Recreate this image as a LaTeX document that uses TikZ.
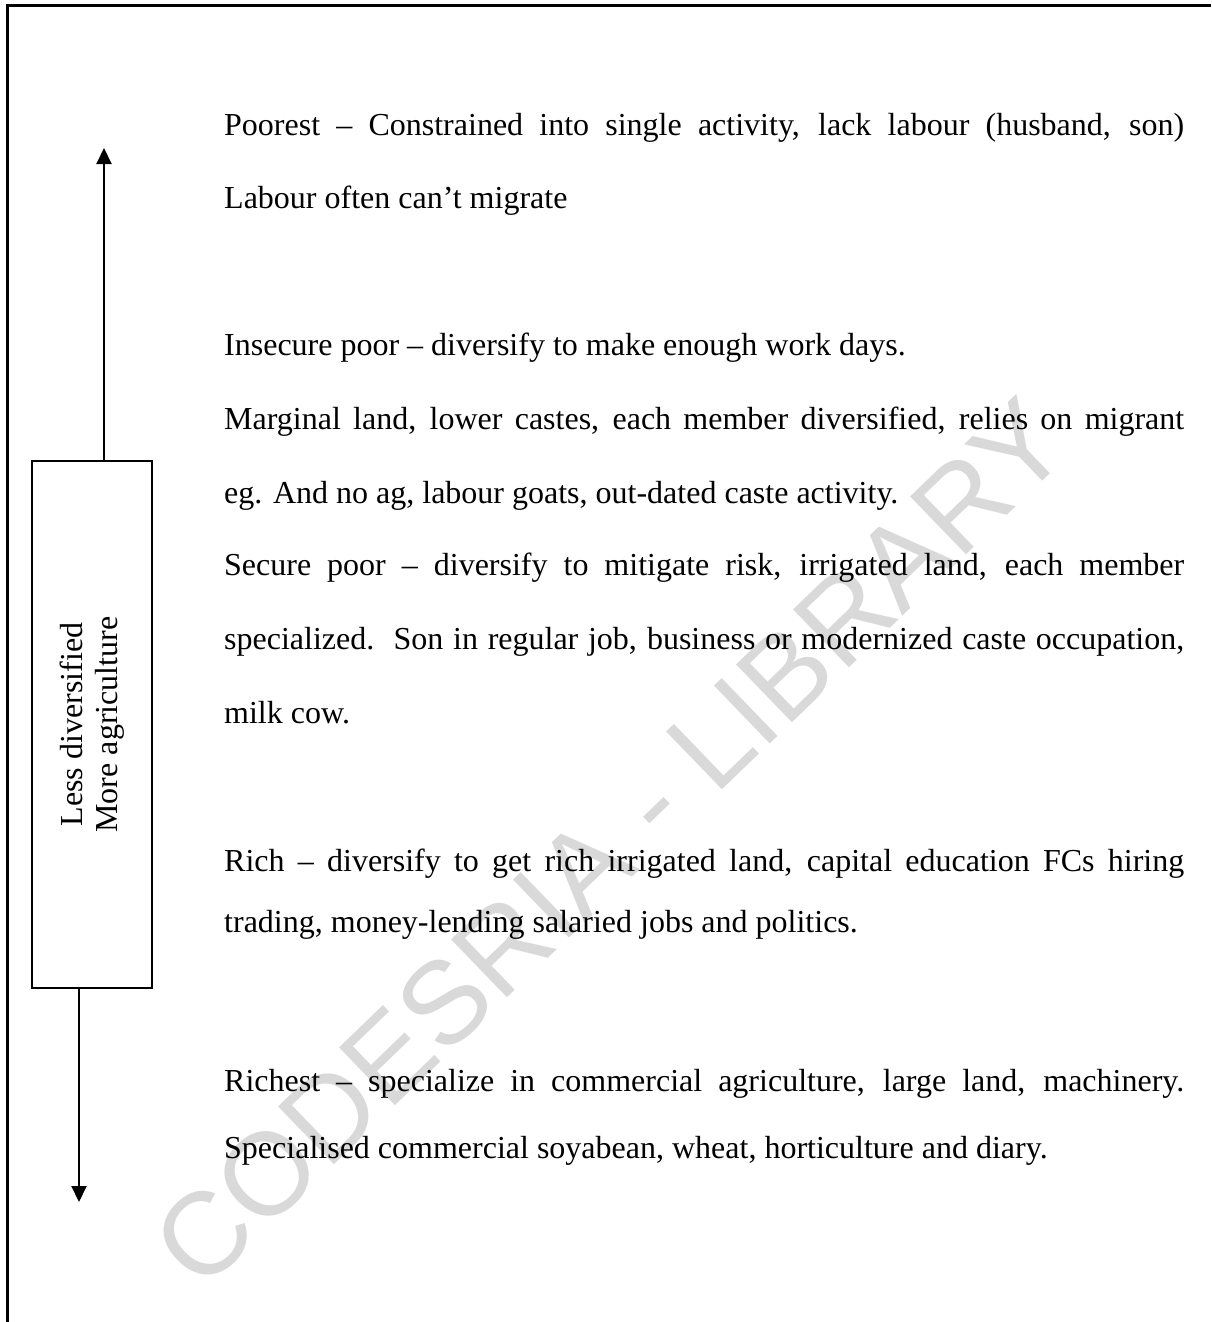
\documentclass[tikz,border=0pt]{standalone}
\usepackage{fontspec}
\setmainfont{Liberation Serif}
\setsansfont{Liberation Sans}
\usetikzlibrary{arrows.meta, positioning}

\newcommand{\fullline}[1]{\makebox[960pt][s]{#1}}

\tikzset{
  txt/.style = {anchor=base west, inner sep=0pt, font=\fontsize{32}{38}\selectfont},
  sidebox/.style = {rectangle, draw, line width=1.6pt, minimum width=120pt, minimum height=527pt, inner sep=0pt},
  arr/.style = {line width=2pt, -{Triangle[length=16pt, width=15pt]}}
}

\begin{document}
\begin{tikzpicture}[x=1pt, y=-1pt]
  \useasboundingbox (0,0) rectangle (1211,1322);

  % watermark behind everything
  \node (watermark) [rotate=44, text=black!15, font=\fontsize{117}{117}\sffamily] at (610,843) {CODESRIA - LIBRARY};

  % outer frame (left and top edges)
  \draw[line width=3pt] (7.5,1322) -- (7.5,6) -- (1211,6);

  % side scale with arrows
  \node (scale) [sidebox] at (92,724.5) {};
  \node (scaletext) [rotate=90, align=center, font=\fontsize{32}{35}\selectfont] at (scale.center) {Less diversified\\More agriculture};
  \coordinate (uptip) at (104,148);
  \coordinate (downtip) at (79,1202);
  \draw[arr] (scale.north -| uptip) -- (uptip);
  \draw[arr] (scale.south -| downtip) -- (downtip);

  % text lines
  \node (poorest) [txt] at (224,135) {\fullline{Poorest – Constrained into single activity, lack labour (husband, son)}};
  \node (labour) [txt] at (224,208) {Labour often can’t migrate};

  \node (insecure) [txt] at (224,355) {Insecure poor – diversify to make enough work days.};
  \node (marginal) [txt] at (224,429) {\fullline{Marginal land, lower castes, each member diversified, relies on migrant}};
  \node (eg) [txt] at (224,503) {eg. And no ag, labour goats, out-dated caste activity.};
  \node (secure) [txt] at (224,575) {\fullline{Secure poor – diversify to mitigate risk, irrigated land, each member}};
  \node (specialized) [txt] at (224,649) {\fullline{specialized.\ \ Son in regular job, business or modernized caste occupation,}};
  \node (milk) [txt] at (224,723) {milk cow.};

  \node (rich) [txt] at (224,871) {\fullline{Rich – diversify to get rich irrigated land, capital education FCs hiring}};
  \node (trading) [txt] at (224,932) {trading, money-lending salaried jobs and politics.};

  \node (richest) [txt] at (224,1091) {\fullline{Richest – specialize in commercial agriculture, large land, machinery.}};
  \node (specialised) [txt] at (224,1158) {Specialised commercial soyabean, wheat, horticulture and diary.};
\end{tikzpicture}
\end{document}
